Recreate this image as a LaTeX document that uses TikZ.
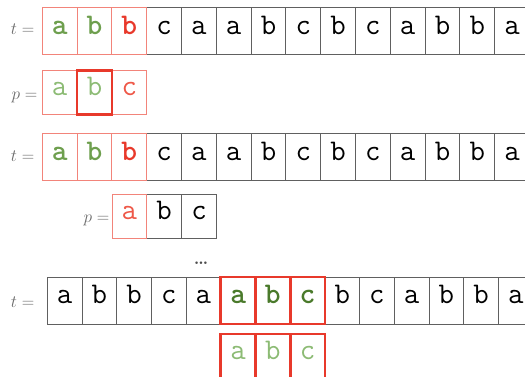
\documentclass[tikz,border=0pt]{standalone}
\definecolor{lred}{HTML}{F2847A}
\definecolor{tred}{HTML}{E8392B}
\definecolor{pred}{HTML}{EE5848}
\definecolor{lgreen}{HTML}{8CBB74}
\definecolor{mgreen}{HTML}{6E9F4E}
\definecolor{dgreen}{HTML}{4A7A2B}
\definecolor{gline}{HTML}{606060}
\definecolor{lab}{HTML}{6A6A6A}
\begin{document}
\begin{tikzpicture}[x=1pt,y=-1pt,
  cell/.style={draw=gline,line width=0.9pt,minimum width=34.8pt,inner sep=0pt,
    font=\fontsize{30}{36}\selectfont\ttfamily,text height=0.68em,text depth=0pt},
  tcell/.style={cell,minimum height=47pt},
  pcell/.style={cell,minimum height=44pt},
  softred/.style={draw=lred},
  hotred/.style={draw=tred,line width=2.6pt},
  lbl/.style={anchor=base east,inner sep=0pt,text=lab,font=\fontsize{16}{19}\selectfont}
]
\useasboundingbox (0,0) rectangle (525,376);

% ---------- row 1 : text ----------
\foreach \ch [count=\i from 0] in {a,b,b,c,a,a,b,c,b,c,a,b,b,a} {
  \ifnum\i>2 \node[tcell] (ta-\i) at ({42.3+34.8*(\i+0.5)},30.8) {\ch};\fi
}
\node[tcell,softred,text=mgreen] (ta-0) at ({42.3+34.8*0.5},30.8) {\bfseries a};
\node[tcell,softred,text=mgreen] (ta-1) at ({42.3+34.8*1.5},30.8) {\bfseries b};
\node[tcell,softred,text=tred]   (ta-2) at ({42.3+34.8*2.5},30.8) {\bfseries b};
\node[lbl] (lta) at (34.5,34.5) {$t =$};

% ---------- row 1 : pattern ----------
\node[pcell,softred,text=lgreen] (pa-0) at ({42.3+34.8*0.5},92.3) {a};
\node[pcell,softred,text=pred]   (pa-2) at ({42.3+34.8*2.5},92.3) {c};
\node[pcell,hotred,text=lgreen]  (pa-1) at ({42.3+34.8*1.5},92.3) {b};
\node[lbl] (lpa) at (37.5,99) {$p =$};

% ---------- row 2 : text ----------
\foreach \ch [count=\i from 0] in {a,b,b,c,a,a,b,c,b,c,a,b,b,a} {
  \ifnum\i>2 \node[tcell] (tb-\i) at ({42.3+34.8*(\i+0.5)},157.4) {\ch};\fi
}
\node[tcell,softred,text=mgreen] (tb-0) at ({42.3+34.8*0.5},157.4) {\bfseries a};
\node[tcell,softred,text=mgreen] (tb-1) at ({42.3+34.8*1.5},157.4) {\bfseries b};
\node[tcell,softred,text=tred]   (tb-2) at ({42.3+34.8*2.5},157.4) {\bfseries b};
\node[lbl] (ltb) at (34.5,161) {$t =$};

% ---------- row 2 : pattern ----------
\node[pcell] (pb-1) at ({112+34.8*1.5},216.2) {b};
\node[pcell] (pb-2) at ({112+34.8*2.5},216.2) {c};
\node[pcell,softred,text=pred] (pb-0) at ({112+34.8*0.5},216.2) {a};
\node[lbl] (lpb) at (109.5,222.5) {$p =$};

% ---------- dots ----------
\node[inner sep=0pt,text=black!70,font=\fontsize{18}{20}\selectfont\bfseries] (dots) at (201,263) {\ldots};

% ---------- row 3 : text ----------
\foreach \ch [count=\i from 0] in {a,b,b,c,a,a,b,c,b,c,a,b,b,a} {
  \ifnum\i<5 \node[tcell] (tc-\i) at ({47.3+34.7*(\i+0.5)},300.5) {\ch};\fi
  \ifnum\i>7 \node[tcell] (tc-\i) at ({47.3+34.7*(\i+0.5)},300.5) {\ch};\fi
}
\node[tcell,hotred,text=dgreen] (tc-5) at ({47.3+34.7*5.5},300.5) {\bfseries a};
\node[tcell,hotred,text=dgreen] (tc-6) at ({47.3+34.7*6.5},300.5) {\bfseries b};
\node[tcell,hotred,text=dgreen] (tc-7) at ({47.3+34.7*7.5},300.5) {\bfseries c};
\node[lbl] (ltc) at (34.5,307) {$t =$};

% ---------- row 3 : pattern ----------
\node[pcell,hotred,text=lgreen] (pc-0) at ({47.3+34.7*5.5},356) {a};
\node[pcell,hotred,text=lgreen] (pc-1) at ({47.3+34.7*6.5},356) {b};
\node[pcell,hotred,text=lgreen] (pc-2) at ({47.3+34.7*7.5},356) {c};
\end{tikzpicture}
\end{document}
